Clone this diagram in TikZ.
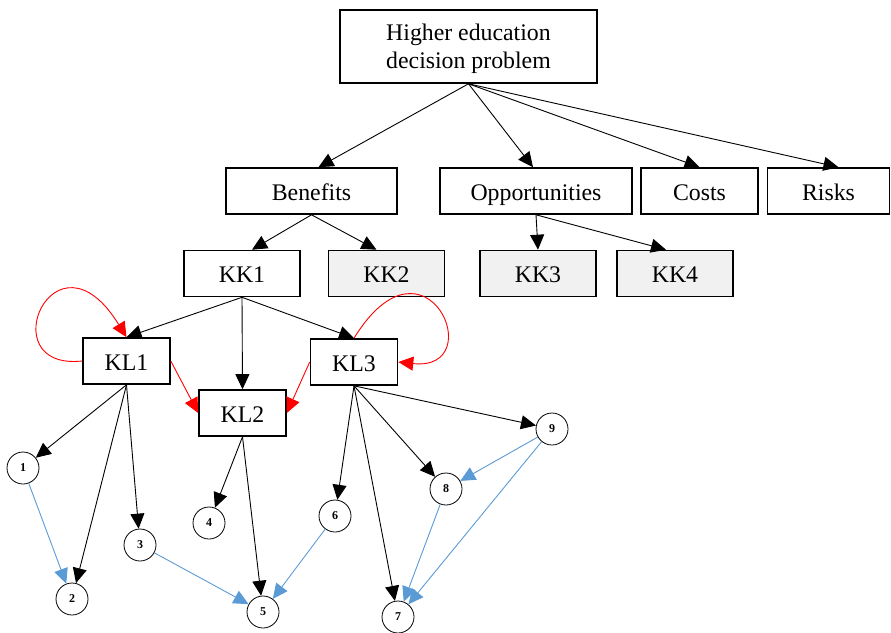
\documentclass[tikz,border=0pt]{standalone}
\usepackage{fontspec}
\setmainfont{Liberation Serif}
\usetikzlibrary{
    arrows.meta,
    positioning
}
\definecolor{edgeblue}{RGB}{91,155,213}
\definecolor{boxgray}{RGB}{241,241,241}
\tikzstyle{box} = [
    rectangle,
    draw=black,
    line width=1.6pt,
    inner sep=0pt,
    minimum height=46pt,
    text height=20pt,
    text depth=2pt,
    font=\fontsize{23.8}{28}\selectfont
]
\tikzstyle{shaded} = [
    box,
    fill=boxgray
]
\tikzstyle{item} = [
    circle,
    draw=black,
    line width=0.8pt,
    minimum size=32pt,
    inner sep=0pt,
    font=\fontsize{12}{14}\selectfont\bfseries
]
\tikzstyle{arrow} = [
    -{Triangle[length=15pt,width=14pt]},
    line width=0.9pt,
    draw=black
]
\tikzstyle{redarrow} = [
    arrow,
    draw=red
]
\tikzstyle{bluearrow} = [
    arrow,
    draw=edgeblue
]

\begin{document}
\begin{tikzpicture}[x=1pt, y=-1pt]
        \useasboundingbox (0,0) rectangle (891,632);

        % Goal
        \node[draw=black, line width=1.6pt, inner sep=0pt, minimum width=257pt, minimum height=73pt, align=center,
              text depth=0pt, font=\fontsize{23.8}{28}\selectfont] (goal) at (468.5,46.5) {Higher education\\decision problem};

        % Criteria
        \node[box, minimum width=171pt] (benefits) at (311.5,191) {Benefits};
        \node[box, minimum width=192pt] (opportunities) at (536,191) {Opportunities};
        \node[box, minimum width=117pt] (costs) at (699.5,191) {Costs};
        \node[box, minimum width=122pt] (risks) at (828.5,191) {Risks};

        % Clusters
        \node[box, minimum width=116pt] (kk1) at (242,273.5) {KK1};
        \node[shaded, minimum width=116pt] (kk2) at (386.5,273.5) {KK2};
        \node[shaded, minimum width=116pt] (kk3) at (538,273.5) {KK3};
        \node[shaded, minimum width=116pt] (kk4) at (675,273.5) {KK4};

        % Sub-clusters
        \node[box, minimum width=87pt] (kl1) at (126.5,361) {KL1};
        \node[box, minimum width=87pt] (kl2) at (242.5,413) {KL2};
        \node[box, minimum width=87pt] (kl3) at (354,362) {KL3};

        % Elements
        \node[item] (c1) at (23,468) {1};
        \node[item] (c2) at (72,599) {2};
        \node[item] (c3) at (140,545) {3};
        \node[item] (c4) at (209,523) {4};
        \node[item] (c5) at (263,612) {5};
        \node[item] (c6) at (335,516) {6};
        \node[item] (c7) at (398,617) {7};
        \node[item] (c8) at (446,489) {8};
        \node[item] (c9) at (552,429) {9};

        % Goal to criteria
        \foreach \t/\s in {benefits/7, opportunities/-3, costs/0, risks/10} {
            \draw[arrow] (goal.south) -- ([xshift=\s pt]\t.north);
        }

        % Criteria to clusters
        \draw[arrow] (benefits.south) -- ([xshift=10pt]kk1.north);
        \draw[arrow] (benefits.south) -- ([xshift=-10pt]kk2.north);
        \draw[arrow] (opportunities.south) -- (kk3.north);
        \draw[arrow] (opportunities.south) -- ([xshift=-9pt]kk4.north);

        % Cluster to sub-clusters
        \foreach \t in {kl1, kl2, kl3} {
            \draw[arrow] (kk1.south) -- (\t.north);
        }

        % Inner dependence (red)
        \draw[redarrow] (kl1.west) .. controls +(-93,10) and +(-72,-117) .. (kl1.north);
        \draw[redarrow] (kl3.north) .. controls +(72,-117) and +(93,10) .. (kl3.east);
        \draw[redarrow] (kl1.east) -- (kl2.west);
        \draw[redarrow] (kl3.west) -- (kl2.east);

        % Sub-clusters to elements
        \foreach \t in {c1, c2, c3} {
            \draw[arrow] (kl1.south) -- (\t);
        }
        \foreach \t in {c4, c5} {
            \draw[arrow] (kl2.south) -- (\t);
        }
        \foreach \t in {c6, c7, c8, c9} {
            \draw[arrow] (kl3.south) -- (\t);
        }

        % Element dependence (blue)
        \draw[bluearrow] (c1) -- (c2);
        \draw[bluearrow] (c3) -- (c5);
        \draw[bluearrow] (c6) -- (c5);
        \draw[bluearrow] (c9) -- (c8);
        \draw[bluearrow] (c8) -- (c7);
        \draw[bluearrow] (c9) -- (c7);
    \end{tikzpicture}
\end{document}
